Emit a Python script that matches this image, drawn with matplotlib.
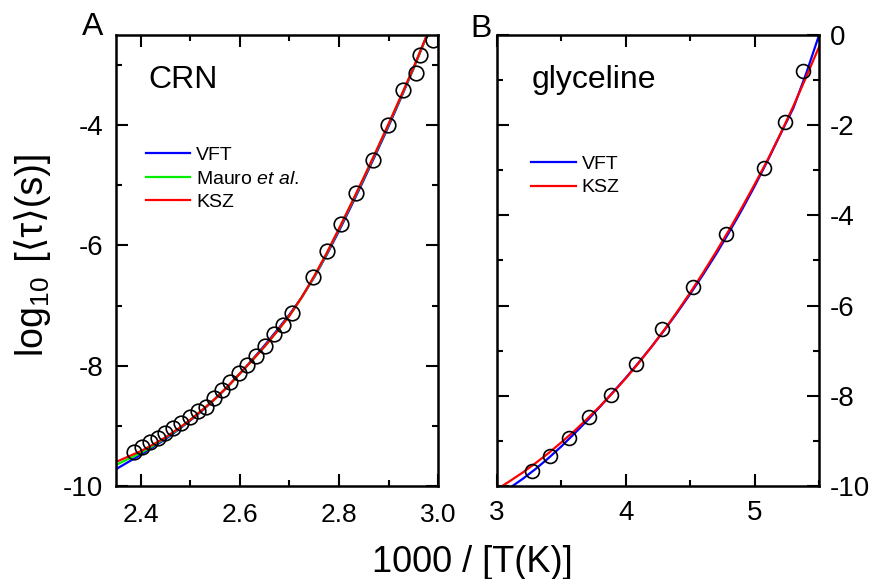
import matplotlib
matplotlib.use("Agg")
import matplotlib.pyplot as plt
from matplotlib.ticker import MultipleLocator

plt.rcParams['font.family'] = ['Liberation Sans', 'DejaVu Sans']
plt.rcParams['mathtext.fontset'] = 'custom'
plt.rcParams['mathtext.rm'] = 'Liberation Sans'
plt.rcParams['mathtext.it'] = 'Liberation Sans:italic'
plt.rcParams['mathtext.bf'] = 'Liberation Sans:bold'
plt.rcParams['axes.unicode_minus'] = False

# ---- panel A : CRN ----
crn_x = [2.386, 2.403, 2.419, 2.434, 2.449, 2.465, 2.482, 2.499, 2.516, 2.531,
         2.548, 2.564, 2.581, 2.598, 2.614, 2.632, 2.650, 2.669, 2.687, 2.705,
         2.747, 2.776, 2.804, 2.834, 2.869, 2.898, 2.930, 2.956, 2.964, 2.989]
crn_y = [-9.43, -9.35, -9.27, -9.20, -9.12, -9.04, -8.95, -8.85, -8.76, -8.68,
         -8.54, -8.40, -8.27, -8.12, -7.98, -7.83, -7.67, -7.48, -7.32, -7.12,
         -6.53, -6.10, -5.64, -5.13, -4.58, -3.99, -3.42, -3.14, -2.84, -2.59]

crn_fit_x = [2.350, 2.375, 2.400, 2.425, 2.450, 2.475, 2.500, 2.525, 2.550,
             2.575, 2.600, 2.625, 2.650, 2.675, 2.700, 2.725, 2.750, 2.775,
             2.800, 2.825, 2.850, 2.875, 2.900, 2.925, 2.950, 2.975, 3.000]
crn_vft = [-9.72, -9.60, -9.48, -9.35, -9.22, -9.07, -8.91, -8.74, -8.55,
           -8.35, -8.13, -7.90, -7.66, -7.41, -7.15, -6.86, -6.53, -6.16,
           -5.76, -5.34, -4.91, -4.47, -4.02, -3.55, -3.07, -2.56, -2.03]
crn_mauro = [-9.65, -9.55, -9.45, -9.33, -9.20, -9.06, -8.90, -8.73, -8.55,
             -8.35, -8.13, -7.91, -7.68, -7.43, -7.17, -6.86, -6.52, -6.14,
             -5.73, -5.31, -4.88, -4.44, -3.99, -3.53, -3.06, -2.56, -2.05]
crn_ksz = [-9.60, -9.51, -9.42, -9.31, -9.19, -9.05, -8.90, -8.73, -8.55,
           -8.35, -8.13, -7.91, -7.68, -7.43, -7.17, -6.86, -6.51, -6.13,
           -5.72, -5.30, -4.87, -4.43, -3.98, -3.52, -3.05, -2.55, -2.04]

# ---- panel B : glyceline ----
gly_x = [3.275, 3.410, 3.555, 3.711, 3.885, 4.080, 4.280, 4.525, 4.780,
         5.070, 5.233, 5.374]
gly_y = [-9.67, -9.33, -8.93, -8.46, -7.98, -7.30, -6.52, -5.59, -4.42,
         -2.96, -1.92, -0.79]

gly_ksz_x = [3.04, 3.10, 3.20, 3.30, 3.40, 3.50, 3.60, 3.70, 3.80, 3.90,
             4.00, 4.10, 4.20, 4.30, 4.40, 4.50, 4.60, 4.70, 4.80, 4.90,
             5.00, 5.10, 5.20, 5.30, 5.40, 5.50]
gly_ksz = [-10.00, -9.89, -9.70, -9.49, -9.27, -9.03, -8.78, -8.51, -8.23,
           -7.93, -7.61, -7.27, -6.91, -6.53, -6.13, -5.71, -5.27, -4.81,
           -4.33, -3.83, -3.31, -2.77, -2.19, -1.58, -0.93, -0.26]
gly_vft_x = [3.12, 3.20, 3.30, 3.40, 3.50, 3.60, 3.70, 3.80, 3.90, 4.00,
             4.10, 4.20, 4.30, 4.40, 4.50, 4.60, 4.70, 4.80, 4.90, 5.00,
             5.10, 5.20, 5.30, 5.40, 5.50]
gly_vft = [-10.00, -9.84, -9.62, -9.38, -9.12, -8.84, -8.55, -8.24, -7.92,
           -7.60, -7.26, -6.91, -6.54, -6.15, -5.74, -5.31, -4.86, -4.38,
           -3.88, -3.35, -2.79, -2.20, -1.62, -0.85, 0.00]

fig = plt.figure(figsize=(8.8, 5.79), dpi=100)
axA = fig.add_axes([0.1318, 0.1606, 0.366, 0.779])
axB = fig.add_axes([0.5648, 0.1606, 0.366, 0.779])

lw = 1.6
# panel A
axA.plot(crn_fit_x, crn_vft, color='#0000ff', lw=lw, label='VFT')
axA.plot(crn_fit_x, crn_mauro, color='#00ee00', lw=lw, label='Mauro $\\mathit{et\\ al.}$')
axA.plot(crn_fit_x, crn_ksz, color='#ff0000', lw=lw, label='KSZ')
axA.plot(crn_x, crn_y, 'o', mfc='none', mec='black', ms=10.5, mew=1.2)
axA.set_xlim(2.35, 3.0)
axA.set_ylim(-10, -2.5)
axA.set_xticks([2.4, 2.6, 2.8, 3.0])
axA.set_xticklabels(['2.4', '2.6', '2.8', '3.0'])
axA.xaxis.set_minor_locator(MultipleLocator(0.1))
axA.yaxis.set_major_locator(MultipleLocator(2))
axA.yaxis.set_minor_locator(MultipleLocator(1))
axA.tick_params(which='both', direction='in', top=True, right=True, width=1.5)
axA.tick_params(which='major', length=8.5)
axA.tick_params(which='minor', length=4.5)
axA.tick_params(axis='x', labelsize=19, pad=12)
axA.tick_params(axis='y', labelsize=20, pad=9)
axA.text(0.10, 0.882, 'CRN', transform=axA.transAxes, fontsize=23, va='baseline')
axA.legend(loc='upper left', bbox_to_anchor=(0.068, 0.770), frameon=False,
           fontsize=14, handlelength=2.3, handletextpad=0.3, labelspacing=0.3,
           borderaxespad=0)

# panel B
axB.plot(gly_vft_x, gly_vft, color='#0000ff', lw=lw, label='VFT')
axB.plot(gly_ksz_x, gly_ksz, color='#ff0000', lw=lw, label='KSZ')
axB.plot(gly_x, gly_y, 'o', mfc='none', mec='black', ms=10, mew=1.2)
axB.set_xlim(3, 5.5)
axB.set_ylim(-10, 0)
axB.xaxis.set_major_locator(MultipleLocator(1))
axB.xaxis.set_minor_locator(MultipleLocator(0.5))
axB.yaxis.set_major_locator(MultipleLocator(2))
axB.yaxis.set_minor_locator(MultipleLocator(1))
axB.yaxis.tick_right()
axB.tick_params(which='both', direction='in', top=True, left=True, right=True,
                labelleft=False, labelright=True, width=1.5)
axB.tick_params(which='major', length=8.5)
axB.tick_params(which='minor', length=4.5)
axB.tick_params(axis='x', labelsize=20, pad=10)
axB.tick_params(axis='y', labelsize=20, pad=8)
axB.text(0.106, 0.882, 'glyceline', transform=axB.transAxes, fontsize=23, va='baseline')
axB.legend(loc='upper left', bbox_to_anchor=(0.0814, 0.7505), frameon=False,
           fontsize=14, handlelength=2.3, handletextpad=0.3, labelspacing=0.3,
           borderaxespad=0)

for ax in (axA, axB):
    for s in ax.spines.values():
        s.set_linewidth(1.8)

fig.text(93 / 880, 1 - 35 / 579, 'A', fontsize=23, ha='center', va='baseline')
fig.text(481 / 880, 1 - 37 / 579, 'B', fontsize=23, ha='center', va='baseline')
fig.text(472 / 880, 1 - 572 / 579, '1000 / [T(K)]', fontsize=26, ha='center', va='baseline')

# y label in two pieces so the angle brackets can fall back to DejaVu Sans
renderer = fig.canvas.get_renderer()
xb = 43 / 880
t1 = fig.text(xb, 1 - 357 / 579, 'log$_{10}$', fontsize=27, rotation=90,
              rotation_mode='anchor', ha='left', va='baseline')
bb = t1.get_window_extent(renderer)
fig.text(xb, (bb.y1 + 4) / fig.bbox.height, ' [⟨τ⟩(s)]', fontsize=27, rotation=90,
         rotation_mode='anchor', ha='left', va='baseline')

fig.savefig('out.png', dpi=100)
